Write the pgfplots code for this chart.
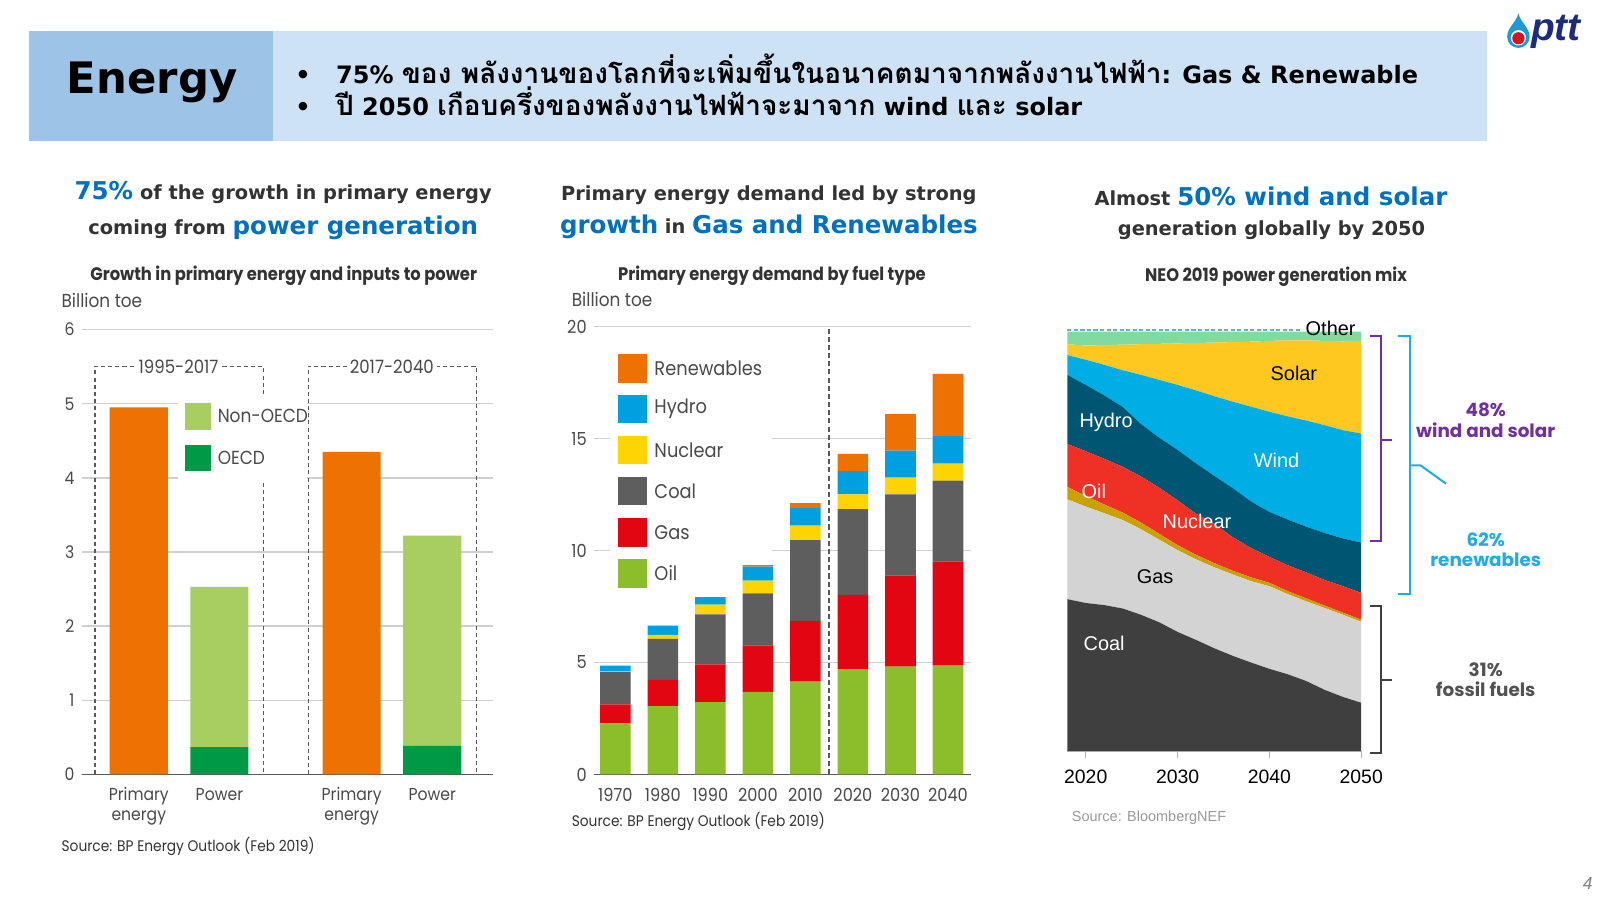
\documentclass[border=0pt]{standalone}
\usepackage{pgfplots}
\pgfplotsset{compat=1.18}
\usepackage{pgfplotstable}
\usepackage{fontspec}
\setmainfont{DejaVu Sans}
\newfontfamily\hd{DejaVu Sans}
\newfontfamily\thaifont[Script=Thai]{Loma}
\newfontfamily\cg{Poppins}[FakeStretch=0.9]
\newfontfamily\cgw{Poppins}
\newfontfamily\ar{Liberation Sans}
\newcommand{\fsz}[1]{\fontsize{#1}{#1}\selectfont}
\newcommand{\thtxt}[1]{{\thaifont\fsz{13.7}#1}}
\pgfplotsset{/pgf/number format/assume math mode=true, /pgf/number format/1000 sep={}}

\definecolor{hdrA}{HTML}{9DC3E6}
\definecolor{hdrB}{HTML}{CDE2F5}
\definecolor{tblue}{HTML}{0070C0}
\definecolor{tdark}{HTML}{333333}
\definecolor{cgray}{HTML}{4A4A4A}
\definecolor{gridc}{HTML}{D0D0D0}
\definecolor{axc}{HTML}{5A5A5A}
\definecolor{bporange}{HTML}{EE7203}
\definecolor{nonoecd}{HTML}{A8CD60}
\definecolor{oecd}{HTML}{009A46}
\definecolor{oil}{HTML}{8BBE2A}
\definecolor{gas}{HTML}{E20613}
\definecolor{coal}{HTML}{5E5E5E}
\definecolor{nuclear}{HTML}{FFD400}
\definecolor{hydro}{HTML}{009FE0}
\definecolor{ncoal}{HTML}{3F3F3F}
\definecolor{ngas}{HTML}{D3D3D3}
\definecolor{noil}{HTML}{C9A100}
\definecolor{nnuc}{HTML}{EE3124}
\definecolor{nhydro}{HTML}{005572}
\definecolor{nwind}{HTML}{00AEE5}
\definecolor{nsolar}{HTML}{FFC821}
\definecolor{nother}{HTML}{7FDBA0}
\definecolor{purp}{HTML}{7030A0}
\definecolor{lblue}{HTML}{1AAFE6}
\definecolor{dashblue}{HTML}{6FA8DC}
\definecolor{pttblue}{HTML}{1E9BD7}
\definecolor{pttred}{HTML}{D7141E}
\definecolor{pttnavy}{HTML}{1B2C7F}

\pgfplotstableread{
pos primary oecd nonoecd
0    4.95 0     0
1    0    0.37  2.16
2.64 4.35 0     0
3.64 0    0.385 2.835
}\growthtab

\pgfplotstableread{
year oil gas coal nuclear hydro renew
1970 2.28 0.85 1.45 0.02 0.26 0.00
1980 3.05 1.18 1.82 0.18 0.40 0.02
1990 3.23 1.69 2.23 0.43 0.51 0.02
2000 3.69 2.08 2.32 0.57 0.62 0.07
2010 4.15 2.71 3.60 0.65 0.78 0.23
2020 4.71 3.31 3.83 0.66 1.03 0.78
2030 4.82 4.07 3.62 0.74 1.21 1.63
2040 4.86 4.65 3.61 0.76 1.23 2.78
}\fueltab

\pgfplotstableread{
year coal gas oil nuc hydro wind solar other
2018 0.362 0.238 0.030 0.102 0.165 0.047 0.026 0.030
2020 0.353 0.230 0.025 0.107 0.158 0.060 0.034 0.033
2022 0.348 0.219 0.021 0.109 0.151 0.073 0.047 0.032
2024 0.340 0.211 0.018 0.109 0.143 0.087 0.061 0.031
2026 0.325 0.204 0.016 0.110 0.125 0.117 0.073 0.030
2028 0.307 0.197 0.014 0.110 0.119 0.138 0.086 0.029
2030 0.284 0.195 0.012 0.107 0.120 0.155 0.099 0.028
2032 0.265 0.192 0.011 0.098 0.120 0.174 0.113 0.027
2034 0.245 0.193 0.010 0.094 0.114 0.190 0.128 0.026
2036 0.227 0.194 0.009 0.080 0.117 0.206 0.142 0.025
2038 0.211 0.194 0.009 0.070 0.111 0.226 0.155 0.024
2040 0.196 0.197 0.008 0.062 0.107 0.239 0.169 0.022
2042 0.183 0.191 0.007 0.062 0.109 0.246 0.181 0.021
2044 0.167 0.190 0.007 0.062 0.109 0.253 0.191 0.021
2046 0.146 0.195 0.006 0.061 0.112 0.257 0.201 0.022
2048 0.129 0.196 0.005 0.063 0.114 0.258 0.212 0.023
2050 0.115 0.193 0.005 0.064 0.120 0.260 0.221 0.022
}\neotab

\begin{document}
\begin{tikzpicture}
% ---------- background & header ----------
\begin{scope}[x=0.5pt,y=-0.5pt]
\fill[white] (0,0) rectangle (1568,882);
\fill[hdrB] (28,30) rectangle (1457,138);
\fill[hdrA] (28,30) rectangle (268,138);
\node[anchor=base, font=\hd\bfseries\fsz{21.25}, inner sep=0] at (149,91.5) {Energy};
\node[anchor=base, font=\hd\bfseries\fsz{11.75}, inner sep=0] at (297,82) {•};
\node[anchor=base, font=\hd\bfseries\fsz{11.75}, inner sep=0] at (297,113) {•};
\node[anchor=base west, font=\hd\bfseries\fsz{11.75}, inner sep=0] at (329,82)
  {75\% \thtxt{ของ พลังงานของโลกที่จะเพิ่มขึ้นในอนาคตมาจากพลังงานไฟฟ้า}: Gas \& Renewable};
\node[anchor=base west, font=\hd\bfseries\fsz{11.75}, inner sep=0] at (329,113)
  {\thtxt{ปี} 2050 \thtxt{เกือบครึ่งของพลังงานไฟฟ้าจะมาจาก} wind \thtxt{และ} solar};
% logo
\fill[pttblue] (1488,13) .. controls (1486,22) and (1477,27) .. (1477,36)
   arc[start angle=180, end angle=0, radius=11] .. controls (1499,27) and (1490,22) .. (1488,13);
\fill[white] (1488,37) circle (7.5);
\fill[pttred] (1488,37.5) circle (6);
\node[anchor=west, font=\ar\bfseries\itshape\fsz{19}, text=pttnavy, inner sep=0] at (1500,31) {ptt};
\node[font=\ar\itshape\fsz{8.5}, text=gray] at (1556,866) {4};
% chart titles
\node[anchor=base, font=\hd\bfseries\fsz{9.5}, text=tdark, inner sep=0] at (277.5,196)
  {{\color{tblue}\fsz{12}75\%} of the growth in primary energy};
\node[anchor=base, font=\hd\bfseries\fsz{9.5}, text=tdark, inner sep=0] at (277.5,230)
  {coming from {\color{tblue}\fsz{12}power generation}};
\node[anchor=base, font=\hd\bfseries\fsz{9.5}, text=tdark, inner sep=0] at (753.5,196.6)
  {Primary energy demand led by strong};
\node[anchor=base, font=\hd\bfseries\fsz{9.5}, text=tdark, inner sep=0] at (753.5,229.3)
  {{\color{tblue}\fsz{12}growth} in {\color{tblue}\fsz{12}Gas and Renewables}};
\node[anchor=base, font=\hd\bfseries\fsz{9.5}, text=tdark, inner sep=0] at (1245.5,201)
  {Almost {\color{tblue}\fsz{12}50\% wind and solar}};
\node[anchor=base, font=\hd\bfseries\fsz{9.5}, text=tdark, inner sep=0] at (1246,231)
  {generation globally by 2050};
% subtitles
\node[anchor=base, font=\cg\bfseries\fsz{8.9}, text=tdark, inner sep=0] at (278,275)
  {Growth in primary energy and inputs to power};
\node[anchor=base, font=\cg\bfseries\fsz{8.9}, text=tdark, inner sep=0] at (756.5,275)
  {Primary energy demand by fuel type};
\node[anchor=base, font=\cg\bfseries\fsz{8.9}, text=tdark, inner sep=0] at (1250.5,276)
  {NEO 2019 power generation mix};
\node[anchor=base west, font=\cg\fsz{9.2}, text=cgray, inner sep=0] at (60,301) {Billion toe};
\node[anchor=base west, font=\cg\fsz{9.2}, text=cgray, inner sep=0] at (560,300.5) {Billion toe};
\node[anchor=base west, font=\cg\fsz{7.5}, text=tdark, inner sep=0] at (60,834) {Source: BP Energy Outlook (Feb 2019)};
\node[anchor=base west, font=\cg\fsz{7.5}, text=tdark, inner sep=0] at (560,810) {Source: BP Energy Outlook (Feb 2019)};
\node[anchor=base west, font=\ar\fsz{7.1}, text=gray!80, inner sep=0] at (1050,805) {Source: BloombergNEF};
\end{scope}

% ---------- chart 1 ----------
\begin{axis}[
  at={(40pt,-379.5pt)}, anchor=south west, scale only axis,
  width=201.5pt, height=218pt,
  xmin=-0.709, xmax=4.392, ymin=0, ymax=6,
  ybar stacked, bar width=28.5pt,
  xtick={0,1,2.64,3.64},
  xticklabels={{\strut Primary\\energy},{\strut Power},{\strut Primary\\energy},{\strut Power}},
  ytick={0,1,2,3,4,5,6},
  axis line style={draw=none}, major tick length=0pt,
  ymajorgrids, grid style={draw=gridc, line width=0.7pt},
  tick label style={font=\cg\fontsize{8.5}{10}\selectfont, text=cgray},
  xticklabel style={align=center, yshift=-2pt},
  clip=false,
]
\addplot[fill=bporange, draw=none] table[x=pos,y=primary]{\growthtab};
\addplot[fill=oecd, draw=none] table[x=pos,y=oecd]{\growthtab};
\addplot[fill=nonoecd, draw=none] table[x=pos,y=nonoecd]{\growthtab};
\draw[axc, line width=0.8pt] (rel axis cs:0,0) -- (rel axis cs:1,0);
\end{axis}

% ---------- chart 2 ----------
\begin{axis}[
  at={(291pt,-379.5pt)}, anchor=south west, scale only axis,
  width=185pt, height=219.5pt,
  xmin=1965.49, xmax=2044.94, ymin=0, ymax=20,
  ybar stacked, bar width=15pt,
  xtick={1970,1980,1990,2000,2010,2020,2030,2040},
  ytick={0,5,10,15,20},
  axis line style={draw=none}, major tick length=0pt,
  ymajorgrids, grid style={draw=gridc, line width=0.7pt},
  tick label style={font=\cg\fsz{8.8}, text=cgray},
  xticklabel style={yshift=-3pt},
  clip=false,
]
\addplot[fill=oil, draw=none] table[x=year,y=oil]{\fueltab};
\addplot[fill=gas, draw=none] table[x=year,y=gas]{\fueltab};
\addplot[fill=coal, draw=none] table[x=year,y=coal]{\fueltab};
\addplot[fill=nuclear, draw=none] table[x=year,y=nuclear]{\fueltab};
\addplot[fill=hydro, draw=none] table[x=year,y=hydro]{\fueltab};
\addplot[fill=bporange, draw=none] table[x=year,y=renew]{\fueltab};
\draw[axc, line width=0.8pt] (rel axis cs:0,0) -- (rel axis cs:1,0);
\draw[axc, line width=0.7pt, dash pattern=on 2.5pt off 1.5pt] (axis cs:2015,0) -- (axis cs:2015,20);
\end{axis}

% ---------- chart 3 ----------
\begin{axis}[
  at={(523pt,-368pt)}, anchor=south west, scale only axis,
  width=144pt, height=205.5pt,
  xmin=2018, xmax=2050, ymin=0, ymax=1,
  stack plots=y, area style,
  xtick={2020,2030,2040,2050}, ytick=\empty,
  axis line style={draw=none},
  tick align=outside, xtick pos=left,
  major tick length=3.5pt, tick style={draw=gray!60, line width=0.6pt},
  tick label style={font=\ar\fsz{9.5}, text=black},
  xticklabel style={yshift=-2pt},
  clip=false,
]
\addplot[fill=ncoal, draw=none] table[x=year,y=coal]{\neotab} \closedcycle;
\addplot[fill=ngas, draw=none] table[x=year,y=gas]{\neotab} \closedcycle;
\addplot[fill=noil, draw=none] table[x=year,y=oil]{\neotab} \closedcycle;
\addplot[fill=nnuc, draw=none] table[x=year,y=nuc]{\neotab} \closedcycle;
\addplot[fill=nhydro, draw=none] table[x=year,y=hydro]{\neotab} \closedcycle;
\addplot[fill=nwind, draw=none] table[x=year,y=wind]{\neotab} \closedcycle;
\addplot[fill=nsolar, draw=none] table[x=year,y=solar]{\neotab} \closedcycle;
\addplot[fill=nother, draw=none] table[x=year,y=other]{\neotab} \closedcycle;
\draw[gray!55, line width=0.6pt] (rel axis cs:0,0) -- (rel axis cs:1,0);
\draw[dashblue, line width=0.6pt, dash pattern=on 2pt off 1.2pt] (axis cs:2018,1.004) -- (axis cs:2043.5,1.004);
\end{axis}

% ---------- overlays ----------
\begin{scope}[x=0.5pt,y=-0.5pt]
% chart 1 dashed boxes
\draw[axc, line width=0.6pt, dash pattern=on 2pt off 1.5pt] (93,759) -- (93,359) -- (258,359) -- (258,759);
\draw[axc, line width=0.6pt, dash pattern=on 2pt off 1.5pt] (302,759) -- (302,359) -- (467,359) -- (467,759);
\node[fill=white, inner sep=1.5pt, font=\cg\fsz{9}, text=cgray] at (175,359) {1995-2017};
\node[fill=white, inner sep=1.5pt, font=\cg\fsz{9}, text=cgray] at (384,359) {2017-2040};
% chart 1 legend
\fill[white] (174,386) rectangle (300.5,472);
\fill[nonoecd] (181,395) rectangle (207,421);
\fill[oecd] (181,436) rectangle (207,462);
\node[anchor=west, font=\cg\fsz{9.25}, text=cgray, inner sep=0] at (213,408) {Non-OECD};
\node[anchor=west, font=\cg\fsz{9.25}, text=cgray, inner sep=0] at (213,449) {OECD};
% chart 2 legend
\fill[white] (598,338) rectangle (757,548);
\fill[white] (598,548) rectangle (722,585);
\foreach \c/\t/\y in {bporange/Renewables/361, hydro/Hydro/401, nuclear/Nuclear/441, coal/Coal/481, gas/Gas/522, oil/Oil/562}{
  \fill[\c] (606,\y-14) rectangle (634,\y+14);
  \node[anchor=west, font=\cg\fsz{9.7}, text=cgray, inner sep=0] at (641,\y) {\t};
}
% chart 3 labels
\node[font=\ar\fsz{9.75}, text=black] at (1268,366) {Solar};
\node[font=\ar\fsz{9.75}, text=white] at (1084,414) {Hydro};
\node[font=\ar\fsz{9.75}, text=white] at (1251,451) {Wind};
\node[font=\ar\fsz{9.75}, text=white] at (1072,482) {Oil};
\node[font=\ar\fsz{9.75}, text=white] at (1173,511) {Nuclear};
\node[font=\ar\fsz{9.75}, text=black] at (1132,565) {Gas};
\node[font=\ar\fsz{9.75}, text=white] at (1082,631) {Coal};
\node[font=\ar\fsz{9.75}, text=black] at (1304,322) {Other};
% brackets
\draw[purp, line width=1pt] (1343,329) -- (1353,329) -- (1353,530) -- (1343,530);
\draw[purp, line width=1pt] (1353,431) -- (1364,431);
\draw[lblue, line width=1pt] (1370,329) -- (1382,329) -- (1382,582) -- (1370,582);
\draw[lblue, line width=1pt] (1382,456) -- (1392,456) -- (1417,474);
\draw[ncoal, line width=1pt] (1343,594) -- (1353,594) -- (1353,738) -- (1343,738);
\draw[ncoal, line width=1pt] (1353,666) -- (1364,666);
\node[font=\cgw\bfseries\fsz{9}, text=purp, align=center] at (1456,412) {48\%\\[1pt]wind and solar};
\node[font=\cgw\bfseries\fsz{9}, text=lblue, align=center] at (1456,539) {62\%\\[1pt]renewables};
\node[font=\cgw\bfseries\fsz{9}, text=ncoal!90, align=center] at (1456,666) {31\%\\[1pt]fossil fuels};
\end{scope}
\pgfresetboundingbox
\path[use as bounding box] (0pt,0pt) rectangle (784pt,-441pt);
\end{tikzpicture}
\end{document}
